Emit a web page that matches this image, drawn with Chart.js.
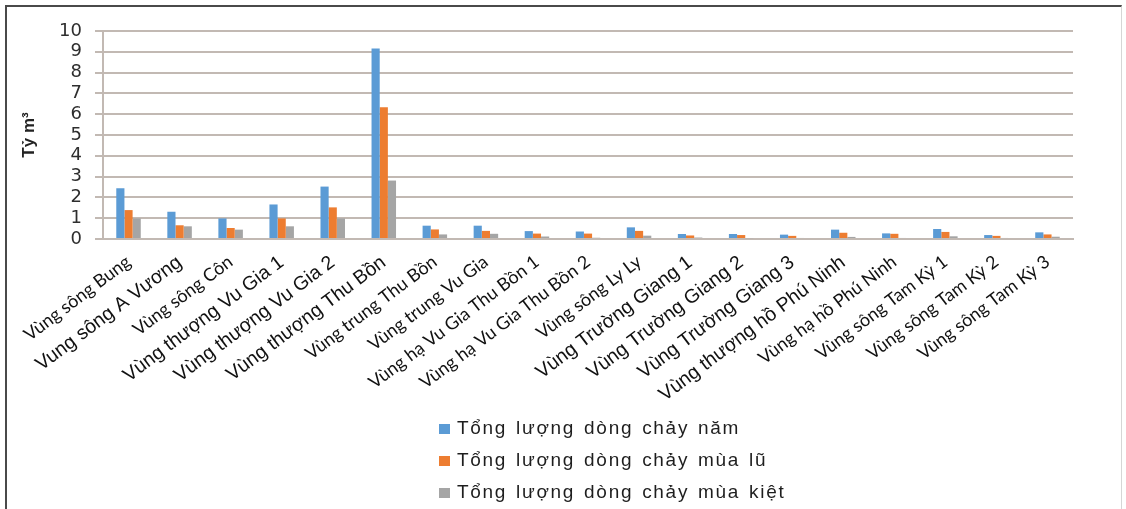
<!DOCTYPE html>
<html>
<head>
<meta charset="utf-8">
<script src="https://cdn.jsdelivr.net/npm/chart.js@4.4.1/dist/chart.umd.min.js"></script>
<style>
  html, body { margin: 0; padding: 0; background: #fff; }
  #wrap { position: relative; width: 1126px; height: 509px; overflow: hidden; }
  #wrap canvas { position: absolute; left: 0; top: 0; }
  #frame {
    position: absolute; left: 5px; top: 5px; width: 1117px; height: 520px;
    border-left: 2px solid #4a4a4a; border-top: 2px solid #4a4a4a; border-right: 1px solid #d6d6d6;
    box-sizing: border-box; pointer-events: none;
  }
</style>
</head>
<body>
<div id="wrap">
  <canvas id="chart" width="1126" height="509"></canvas>
  <div id="frame"></div>
</div>
<script>
// Sub-basin names
const categories = [
  "Vùng sông Bung", "Vung sông A Vương", "Vùng sông Côn",
  "Vùng thượng Vu Gia 1", "Vùng thượng Vu Gia 2", "Vùng thượng Thu Bồn",
  "Vùng trung Thu Bồn", "Vùng trung Vu Gia",
  "Vùng hạ Vu Gia Thu Bồn 1", "Vùng hạ Vu Gia Thu Bồn 2",
  "Vùng sông Ly Ly", "Vùng Trường Giang 1", "Vùng Trường Giang 2", "Vùng Trường Giang 3",
  "Vùng thượng hồ Phú Ninh", "Vùng hạ hồ Phú Ninh",
  "Vùng sông Tam Kỳ 1", "Vùng sông Tam Kỳ 2", "Vùng sông Tam Kỳ 3"
];

// Runoff volumes, billion m3
const annualFlow = [2.44, 1.31, 0.99, 1.66, 2.52, 9.16, 0.64, 0.64, 0.38, 0.36, 0.56, 0.24, 0.24, 0.21, 0.45, 0.27, 0.48, 0.19, 0.32];
const floodFlow  = [1.39, 0.66, 0.53, 0.99, 1.52, 6.34, 0.46, 0.39, 0.26, 0.26, 0.39, 0.17, 0.19, 0.15, 0.30, 0.25, 0.34, 0.15, 0.22];
const dryFlow    = [0.99, 0.61, 0.45, 0.61, 0.99, 2.81, 0.22, 0.25, 0.12, 0.06, 0.16, 0.07, 0.04, 0.05, 0.10, 0.05, 0.13, 0.05, 0.11];

const seriesNames = [
  "Tổng lượng dòng chảy năm",
  "Tổng lượng dòng chảy mùa lũ",
  "Tổng lượng dòng chảy mùa kiệt"
];

// Y axis range and step
const yMin = 0, yMax = 10, yStep = 1;

const GRID = '#c2b9b3';
// labels typeset in the wider face
const wideLabels = new Set([1, 3, 4, 5, 11, 12, 13, 14]);

// Legend stacked in a single column under the axis labels
const columnLegend = {
  id: 'columnLegend',
  afterDraw(chart) {
    const ctx = chart.ctx;
    const x0 = 439, y0 = 429, rowGap = 32;
    ctx.save();
    ctx.font = '19px "Liberation Sans", Arial, sans-serif';
    ctx.letterSpacing = '1.7px';
    ctx.wordSpacing = '2px';
    ctx.textBaseline = 'middle';
    ctx.textAlign = 'left';
    chart.data.datasets.forEach((ds, i) => {
      const y = y0 + i * rowGap;
      ctx.fillStyle = ds.backgroundColor;
      ctx.fillRect(x0, y - 5, 11, 10);
      ctx.fillStyle = '#1e1e1e';
      ctx.fillText(ds.label, x0 + 18, y);
    });
    ctx.restore();
  }
};

new Chart(document.getElementById('chart'), {
  type: 'bar',
  data: {
    labels: categories,
    datasets: [
      { label: seriesNames[0], data: annualFlow, backgroundColor: '#5b9bd5' },
      { label: seriesNames[1], data: floodFlow,  backgroundColor: '#ed7d31' },
      { label: seriesNames[2], data: dryFlow,    backgroundColor: '#a5a5a5' }
    ]
  },
  options: {
    responsive: false,
    animation: false,
    devicePixelRatio: 1,
    layout: { padding: { left: 14, top: 31, right: 53, bottom: 0 } },
    datasets: { bar: { categoryPercentage: 0.48, barPercentage: 1.0 } },
    plugins: {
      legend: { display: false },
      tooltip: { enabled: false }
    },
    scales: {
      x: {
        grid: { display: false },
        border: { display: true, color: GRID, width: 2 },
        ticks: {
          autoSkip: false,
          minRotation: 37,
          maxRotation: 37,
          padding: 4,
          color: '#111',
          font: (ctx) => wideLabels.has(ctx.index)
            ? { family: '"Liberation Sans", Arial, sans-serif', size: 19.5 }
            : { family: 'Lato, sans-serif', size: 18 }
        },
        afterFit: (scale) => { scale.height = 270; }
      },
      y: {
        min: yMin,
        max: yMax,
        ticks: {
          stepSize: yStep,
          autoSkip: false,
          padding: 13,
          color: '#2e2e2e',
          font: { family: '"DejaVu Sans", sans-serif', size: 18, lineHeight: 1 }
        },
        grid: { color: GRID, lineWidth: 2, tickLength: 8 },
        border: { display: true, color: GRID, width: 2 },
        title: {
          display: true,
          text: 'Tỷ m³',
          color: '#222',
          font: { family: '"Liberation Sans", Arial, sans-serif', size: 17, weight: 'bold' },
          padding: { top: 5, bottom: 4 }
        },
        afterFit: (scale) => { scale.width = 89; }
      }
    }
  },
  plugins: [columnLegend]
});
</script>
</body>
</html>
